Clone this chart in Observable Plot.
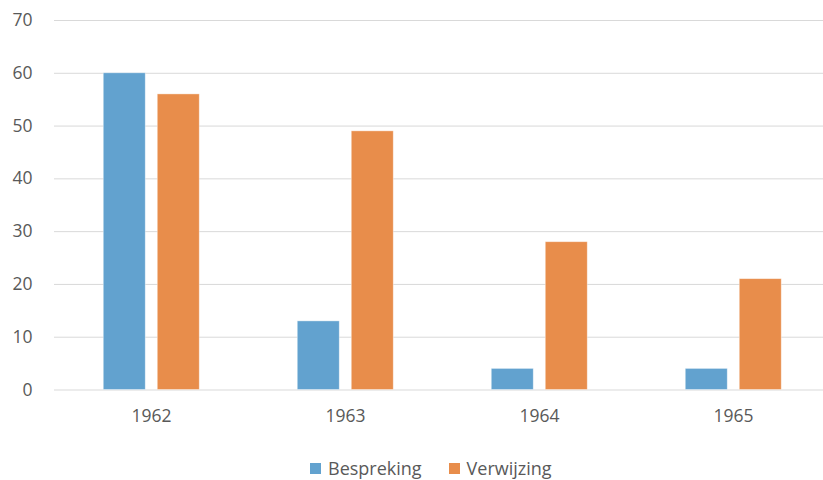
<!DOCTYPE html>
<html>
<head>
<meta charset="utf-8">
<script src="https://cdn.jsdelivr.net/npm/d3@7"></script>
<script src="https://cdn.jsdelivr.net/npm/@observablehq/plot@0.6"></script>
<style>
  html, body { margin: 0; padding: 0; background: #fff; width: 823px; height: 480px; overflow: hidden; position: relative; }
  #chart svg { max-width: none !important; display: block; }
  #legend { position: absolute; left: 310px; top: 459px; height: 19px; line-height: 19px; display: flex; align-items: center; font-family: "Open Sans", sans-serif; font-size: 18px; color: #595959; }
  #legend .item { display: flex; align-items: center; margin-right: 27px; }
  #legend .sw { width: 11px; height: 11px; margin-right: 7px; }
</style>
</head>
<body>
<div id="chart"></div>
<div id="legend"></div>
<script>
const years = ["1962", "1963", "1964", "1965"];
const series = ["Bespreking", "Verwijzing"];
const bespreking = [60, 13, 4, 4];
const verwijzing = [56, 49, 28, 21];
const yTicks = [0, 10, 20, 30, 40, 50, 60, 70];
const colors = ["#62a2cf", "#e88d4b"];

const data = years.flatMap((yr, i) => [
  {year: yr, series: series[0], value: bespreking[i]},
  {year: yr, series: series[1], value: verwijzing[i]}
]);

const chart = Plot.plot({
  width: 831,
  height: 440,
  marginLeft: 52.75,
  marginRight: 0,
  marginTop: 20,
  marginBottom: 50.5,
  style: {fontFamily: "Open Sans, sans-serif", fontSize: "17.5px", color: "#595959", background: "white", maxWidth: "none"},
  fx: {domain: years, padding: 0, label: null, tickSize: 0, tickPadding: 20, axis: "bottom"},
  x: {domain: series, axis: null, paddingInner: 0.218, paddingOuter: 0.877},
  y: {domain: [0, 70], ticks: yTicks, tickSize: 0, tickPadding: 22, label: null},
  color: {domain: series, range: colors},
  marks: [
    Plot.ruleY(yTicks, {stroke: "#d9d9d9", strokeWidth: 1}),
    Plot.barY(data, {fx: "year", x: "series", y: "value", fill: "series", stroke: "white", strokeOpacity: 0.5, strokeWidth: 0.8})
  ]
});
document.getElementById("chart").appendChild(chart);

const legend = document.getElementById("legend");
series.forEach((s, i) => {
  const item = document.createElement("div");
  item.className = "item";
  const sw = document.createElement("div");
  sw.className = "sw";
  sw.style.background = colors[i];
  const label = document.createElement("span");
  label.textContent = s;
  item.appendChild(sw);
  item.appendChild(label);
  legend.appendChild(item);
});
</script>
</body>
</html>
